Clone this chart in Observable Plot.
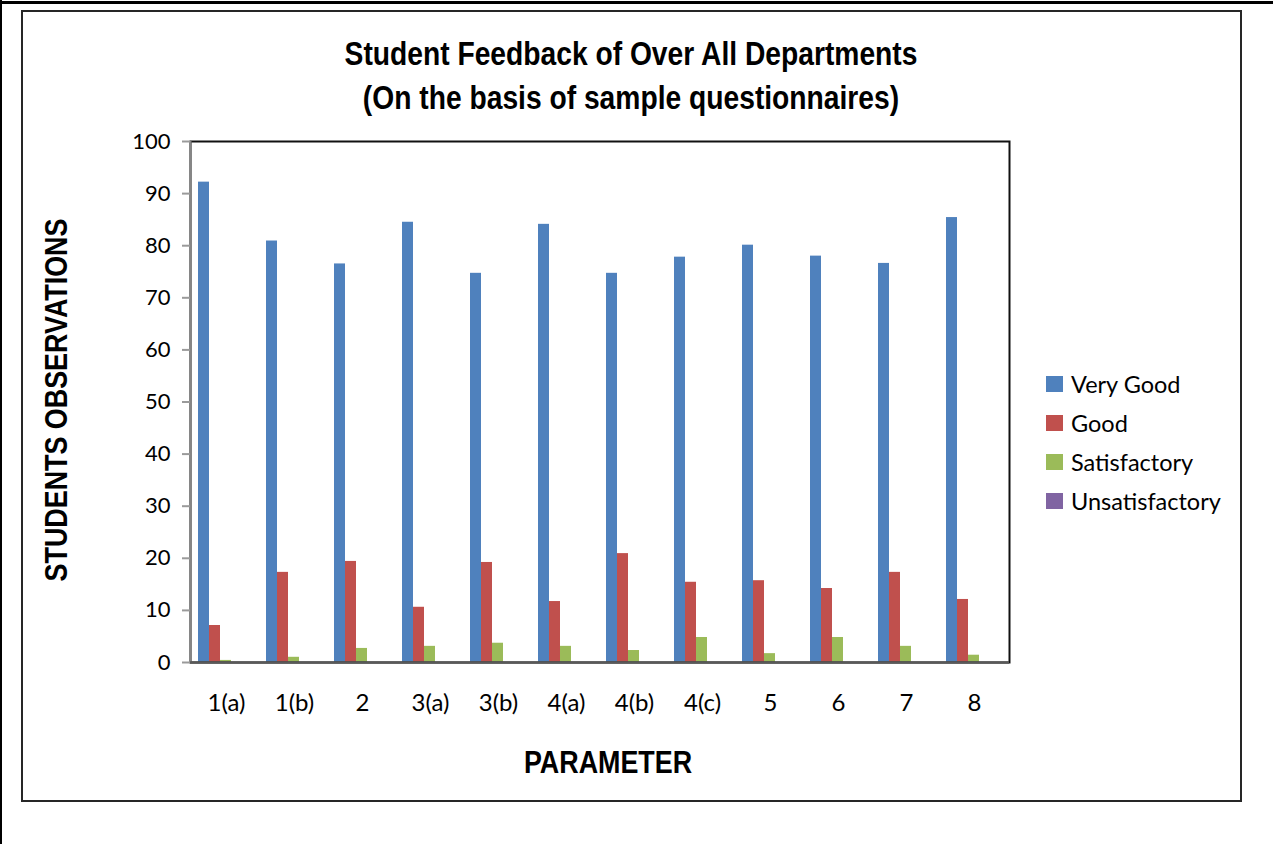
<!DOCTYPE html>
<html>
<head>
<meta charset="utf-8">
<script src="https://cdn.jsdelivr.net/npm/d3@7"></script>
<script src="https://cdn.jsdelivr.net/npm/@observablehq/plot@0.6"></script>
<style>
  html, body { margin: 0; padding: 0; background: #fff; }
  #page { position: relative; width: 1273px; height: 844px; overflow: hidden; background: #fff; }
  .bold { font-family: "Liberation Sans", Arial, sans-serif; font-weight: bold; color: #000; position: absolute; white-space: nowrap; }
  #topline { position: absolute; left: 0; top: 1px; width: 1273px; height: 3px; background: #000; }
  #leftline { position: absolute; left: 0; top: 0; width: 2px; height: 844px; background: #000; }
  #frame { position: absolute; left: 21px; top: 10px; width: 1217px; height: 788px; border: 2px solid #262626; }
  #title { left: 631px; top: 31px; text-align: center; font-size: 34px; line-height: 44px; transform: translateX(-50%) scaleX(0.83); }
  #xlabel { left: 608px; top: 742px; transform: translateX(-50%) scaleX(0.84); font-size: 32px; line-height: 40px; }
  #ylabel { left: 56px; top: 400px; transform: translate(-50%, -50%) rotate(-90deg) scaleX(0.84); font-size: 32px; line-height: 40px; }
  #legend { position: absolute; left: 1046px; top: 364px; font-family: Lato, "Open Sans", sans-serif; font-size: 23.5px; color: #000; }
  .row { display: flex; align-items: center; height: 39px; }
  .sw { width: 17px; height: 16px; margin-right: 8px; }
</style>
</head>
<body>
<div id="page">
  <div id="topline"></div>
  <div id="leftline"></div>
  <div id="frame"></div>
  <div id="title" class="bold">Student Feedback of Over All Departments<br>(On the basis of sample questionnaires)</div>
  <div id="xlabel" class="bold">PARAMETER</div>
  <div id="ylabel" class="bold">STUDENTS OBSERVATIONS</div>
  <div id="legend"></div>
</div>
<script>
// ---- data ----
const params = ["1(a)", "1(b)", "2", "3(a)", "3(b)", "4(a)", "4(b)", "4(c)", "5", "6", "7", "8"];
const seriesNames = ["Very Good", "Good", "Satisfactory", "Unsatisfactory"];
const veryGood       = [92.2, 80.9, 76.5, 84.5, 74.7, 84.1, 74.7, 77.8, 80.1, 78.0, 76.6, 85.4];
const good           = [7.1, 17.3, 19.4, 10.6, 19.2, 11.7, 20.9, 15.4, 15.7, 14.2, 17.3, 12.1];
const satisfactory   = [0.4, 1.0, 2.7, 3.1, 3.7, 3.1, 2.3, 4.8, 1.7, 4.8, 3.1, 1.4];
const unsatisfactory = [0, 0, 0, 0, 0, 0, 0, 0, 0, 0, 0, 0];
const yTicks = [0, 10, 20, 30, 40, 50, 60, 70, 80, 90, 100];
const colors = ["#4F81BD", "#C0504D", "#9BBB59", "#8064A2"];

const seriesValues = [veryGood, good, satisfactory, unsatisfactory];
const data = [];
params.forEach((p, i) => {
  seriesNames.forEach((s, j) => data.push({param: p, series: s, value: seriesValues[j][i]}));
});

const W = 1273, H = 844;
const margins = {marginLeft: 190, marginRight: 264, marginTop: 141, marginBottom: 182};
const fontRegular = "Lato, 'Open Sans', sans-serif";
const svgStyle = {position: "absolute", left: "0px", top: "0px", background: "transparent", fontFamily: fontRegular, fontSize: "22px", color: "#000", overflow: "visible"};

const page = document.getElementById("page");

// bars (faceted by parameter)
const bars = Plot.plot({
  width: W, height: H, ...margins,
  style: svgStyle,
  fx: {domain: params, paddingInner: 0.355, paddingOuter: 0.1775, label: null, axis: null},
  x: {domain: seriesNames, padding: 0, axis: null},
  y: {domain: [0, 100], axis: null},
  color: {domain: seriesNames, range: colors},
  marks: [
    Plot.barY(data, {fx: "param", x: "series", y: "value", fill: "series", dx: -6}),
    Plot.axisFx({anchor: "bottom", tickSize: 0, tickPadding: 31, fontSize: 24, fill: "#000", label: null})
  ]
});
page.appendChild(bars);

// frame + y axis (single panel)
const axes = Plot.plot({
  width: W, height: H, ...margins,
  style: svgStyle,
  x: {domain: [0, 1], axis: null},
  y: {domain: [0, 100], axis: null},
  marks: [
    Plot.frame({stroke: "#111", strokeWidth: 2}),
    Plot.ruleX([0], {stroke: "#868686", strokeWidth: 2}),
    Plot.ruleY([0], {stroke: "#595959", strokeWidth: 2.5}),
    Plot.axisY({ticks: yTicks, tickSize: 8, tickPadding: 12, stroke: "#9a9a9a", strokeWidth: 2, fill: "#000", fontSize: 22, label: null, tickFormat: d3.format("d")})
  ]
});
page.appendChild(axes);

// legend
const legend = document.getElementById("legend");
seriesNames.forEach((s, j) => {
  const row = document.createElement("div");
  row.className = "row";
  const sw = document.createElement("div");
  sw.className = "sw";
  sw.style.background = colors[j];
  const t = document.createElement("span");
  t.textContent = s;
  row.appendChild(sw);
  row.appendChild(t);
  legend.appendChild(row);
});
</script>
</body>
</html>
